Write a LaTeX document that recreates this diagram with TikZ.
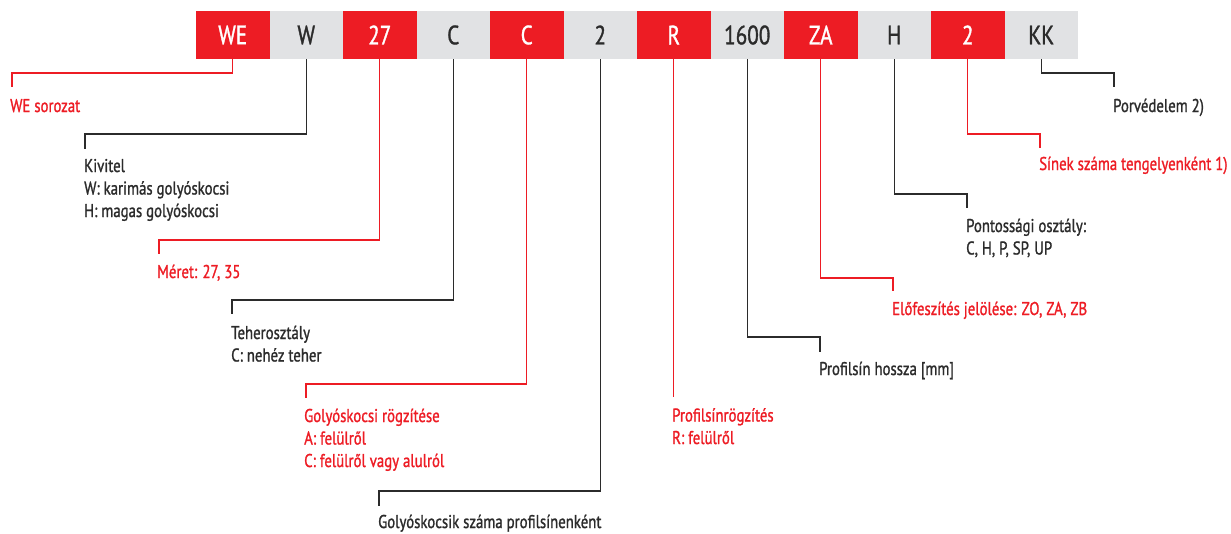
\documentclass[tikz,border=0pt]{standalone}
\usepackage{fontspec}
\setmainfont{PT Sans}[FakeStretch=0.8,FakeBold=1.2]
\definecolor{brred}{HTML}{ED1C24}
\definecolor{boxgrey}{HTML}{E1E2E4}
\definecolor{ink}{HTML}{2B2B2B}
\newcommand{\lbl}[1]{\begin{tabular}[t]{@{}l@{}}#1\end{tabular}}
\begin{document}
\begin{tikzpicture}[x=1pt,y=-1pt,
  codebox/.style={minimum width=73.5pt, minimum height=48pt, inner sep=0pt, outer sep=0pt,
    font=\fontsize{26.5}{30}\selectfont, anchor=north west},
  redbox/.style={codebox, fill=brred, text=white},
  greybox/.style={codebox, fill=boxgrey, text=ink},
  redline/.style={draw=brred, line width=1.1pt},
  blackline/.style={draw=ink, line width=1.1pt},
  labeltext/.style={anchor=base west, inner sep=0pt, font=\fontsize{18.5}{22.5}\selectfont},
  redlabel/.style={labeltext, text=brred},
  blacklabel/.style={labeltext, text=ink}]
\useasboundingbox (0,0) rectangle (1231,533);
% code boxes
\node[redbox]  (b1)  at (196,11)   {WE};
\node[greybox] (b2)  at (269.5,11) {W};
\node[redbox]  (b3)  at (343,11)   {27};
\node[greybox] (b4)  at (416.5,11) {C};
\node[redbox]  (b5)  at (490,11)   {C};
\node[greybox] (b6)  at (563.5,11) {2};
\node[redbox]  (b7)  at (637,11)   {R};
\node[greybox] (b8)  at (710.5,11) {1600};
\node[redbox]  (b9)  at (784,11)   {ZA};
\node[greybox] (b10) at (857.5,11) {H};
\node[redbox]  (b11) at (931,11)   {2};
\node[greybox] (b12) at (1004.5,11) {KK};
% connector ends
\coordinate (e1) at (12,87);
\coordinate (e2) at (85,149);
\coordinate (e3) at (159,254);
\coordinate (e4) at (232,314);
\coordinate (e5) at (306,398);
\coordinate (e6) at (379,506);
\coordinate (e7) at (673.75,397);
\coordinate (e8) at (820,352);
\coordinate (e9) at (893,291);
\coordinate (e10) at (967,208);
\coordinate (e11) at (1040,148);
\coordinate (e12) at (1114,87);
% connectors
\draw[redline]   (b1.south) -- ++(0,14)  -| (e1);
\draw[blackline] (b2.south) -- ++(0,75)  -| (e2);
\draw[redline]   (b3.south) -- ++(0,181) -| (e3);
\draw[blackline] (b4.south) -- ++(0,241) -| (e4);
\draw[redline]   (b5.south) -- ++(0,325) -| (e5);
\draw[blackline] (b6.south) -- ++(0,432) -| (e6);
\draw[redline]   (b7.south) -- (e7);
\draw[blackline] (b8.south) -- ++(0,278) -| (e8);
\draw[redline]   (b9.south) -- ++(0,219) -| (e9);
\draw[blackline] (b10.south) -- ++(0,135) -| (e10);
\draw[redline]   (b11.south) -- ++(0,75) -| (e11);
\draw[blackline] (b12.south) -- ++(0,14) -| (e12);
% labels
\node[redlabel]   (l1)  at (10,112)   {WE sorozat};
\node[blacklabel] (l2)  at (84,172)   {\lbl{Kivitel\\W: karimás golyóskocsi\\H: magas golyóskocsi}};
\node[redlabel]   (l3)  at (157,278)  {Méret: 27, 35};
\node[blacklabel] (l4)  at (231,339)  {\lbl{Teherosztály\\C: nehéz teher}};
\node[redlabel]   (l5)  at (304,422)  {\lbl{Golyóskocsi rögzítése\\A: felülről\\C: felülről vagy alulról}};
\node[blacklabel] (l6)  at (378,528)  {Golyóskocsik száma profilsínenként};
\node[redlabel]   (l7)  at (672,421.5) {\lbl{Profilsínrögzítés\\R: felülről}};
\node[blacklabel] (l8)  at (819,375)  {Profilsín hossza [mm]};
\node[redlabel]   (l9)  at (892,315)  {Előfeszítés jelölése: ZO, ZA, ZB};
\node[blacklabel] (l10) at (966,232)  {\lbl{Pontossági osztály:\\C, H, P, SP, UP}};
\node[redlabel]   (l11) at (1039,170) {Sínek száma tengelyenként 1)};
\node[blacklabel] (l12) at (1113,112) {Porvédelem 2)};
\end{tikzpicture}
\end{document}
